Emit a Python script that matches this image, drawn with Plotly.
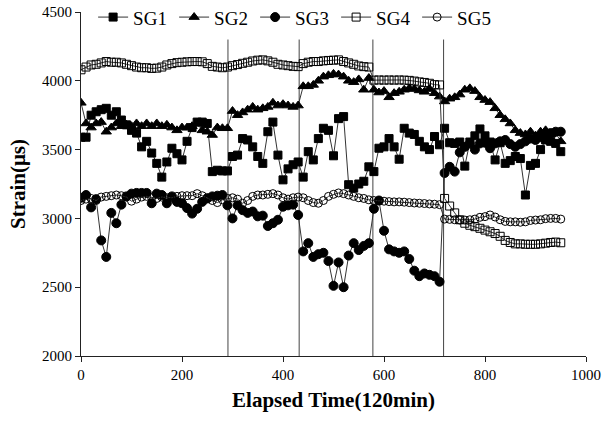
import plotly.graph_objects as go

# Elapsed time (120 min units)
time = [0, 10, 20, 30, 40, 50, 60, 70, 80, 90, 100, 110, 120, 130, 140, 150, 160, 170, 180, 190,
        200, 210, 220, 230, 240, 250, 260, 270, 280, 290,
        300, 310, 320, 330, 340, 350, 360, 370, 380, 390, 400, 410, 420, 430,
        440, 450, 460, 470, 480, 490, 500, 510, 520, 530, 540, 550, 560, 570,
        580, 590, 600, 610, 620, 630, 640, 650, 660, 670, 680, 690, 700, 710,
        720, 730, 740, 750, 760, 770, 780, 790, 800, 810, 820, 830, 840, 850, 860, 870, 880, 890,
        900, 910, 920, 930, 940, 950]

sg1 = [3590, 3590, 3750, 3775, 3790, 3800, 3750, 3775, 3715, 3680, 3640, 3620, 3520, 3560, 3475,
       3400, 3300, 3410, 3510, 3470, 3425, 3560, 3660, 3700, 3700, 3690, 3340, 3350, 3345, 3345,
       3450, 3460, 3580, 3570, 3520, 3450, 3400, 3630, 3700, 3460, 3280, 3360, 3390, 3410,
       3300, 3485, 3425, 3580, 3655, 3640, 3455, 3725, 3740, 3245, 3220, 3250, 3270, 3375,
       3340, 3510, 3520, 3580, 3520, 3430, 3655, 3620, 3610, 3560, 3520, 3500, 3595, 3535,
       3655, 3550, 3545, 3555, 3380, 3555, 3600, 3650, 3600, 3555, 3425, 3550, 3400, 3420,
       3450, 3435, 3170, 3385, 3400, 3500, 3570, 3560, 3545, 3485]

sg2 = [3840, 3690, 3660, 3690, 3700, 3630, 3660, 3690, 3670, 3680, 3670, 3690, 3670, 3690, 3670,
       3690, 3670, 3680, 3660, 3640, 3660, 3660, 3670, 3690, 3640, 3630, 3606, 3660, 3655, 3655,
       3780, 3750, 3770, 3790, 3810, 3790, 3800, 3810, 3840, 3820, 3830, 3820, 3810, 3820,
       3960, 3960, 3970, 4000, 4030, 4040, 4050, 4045, 4030, 4000, 3990, 4010, 3935, 4020,
       3935, 3915, 3925, 3880, 3910, 3920, 3935, 3945, 3940, 3930, 3920, 3940, 3910, 3885,
       3850, 3870, 3880, 3900, 3935, 3945, 3925, 3880, 3860, 3845, 3800, 3750, 3720, 3690,
       3640, 3620, 3610, 3630, 3600, 3630, 3640, 3610, 3620, 3560]

sg3 = [3150, 3170, 3080, 3140, 2840, 2720, 3040, 2965, 3100, 3160, 3180, 3185, 3185, 3185, 3110,
       3180, 3170, 3110, 3160, 3120, 3110, 3075, 3035, 3070, 3120, 3145, 3160, 3165, 3170, 3095,
       3000, 3095, 3060, 3040, 3050, 3015, 3020, 2945, 2965, 2990, 3085, 3095, 3100, 3025,
       2760, 2820, 2720, 2740, 2750, 2690, 2510, 2680, 2500, 2730, 2820, 2770, 2800, 2820,
       3070, 3130, 2910, 2775, 2760, 2750, 2760, 2705, 2620, 2580, 2600, 2590, 2580, 2540,
       3330, 3375, 3340, 3480, 3520, 3545, 3500, 3545, 3550, 3510, 3545, 3560, 3570, 3540,
       3520, 3540, 3560, 3580, 3570, 3590, 3610, 3620, 3630, 3630]

sg4 = [4080, 4100, 4115, 4120, 4130, 4140, 4135, 4135, 4130, 4120, 4110, 4100, 4095, 4095, 4090,
       4092, 4100, 4115, 4125, 4132, 4135, 4138, 4140, 4140, 4138, 4125, 4105, 4100, 4095, 4100,
       4110, 4118, 4127, 4135, 4144, 4150, 4152, 4145, 4135, 4120, 4115, 4110, 4105, 4103,
       4125, 4135, 4140, 4140, 4145, 4148, 4150, 4152, 4140, 4130, 4120, 4108, 4103, 4100,
       4005, 4006, 4005, 4006, 4005, 4006, 4005, 4003, 3998, 3992, 3988, 3982, 3972, 3970,
       3145, 3090, 3040, 2990, 2965, 2950, 2940, 2928, 2915, 2903, 2890, 2870, 2840, 2825,
       2815, 2815, 2812, 2812, 2812, 2815, 2820, 2825, 2828, 2823]

sg5 = [3130, 3140, 3145, 3130, 3155, 3160, 3165, 3170, 3165, 3155, 3125, 3140, 3155, 3160, 3150,
       3145, 3155, 3150, 3150, 3160, 3165, 3165, 3165, 3180, 3165, 3150, 3130, 3115, 3135, 3145,
       3150, 3140, 3110, 3130, 3160, 3170, 3170, 3175, 3180, 3170, 3150, 3140, 3150, 3155,
       3150, 3130, 3115, 3110, 3130, 3160, 3175, 3185, 3180, 3170, 3160, 3150, 3145, 3135,
       3130, 3128, 3125, 3122, 3120, 3120, 3118, 3115, 3112, 3110, 3108, 3105, 3103, 3100,
       2995, 2993, 2990, 2988, 2988, 2990, 2995, 3008, 3013, 3025, 3010, 2990, 2978, 2975,
       2975, 2972, 2975, 2985, 2988, 2990, 2998, 3000, 3000, 2995]

series_names = ["SG1", "SG2", "SG3", "SG4", "SG5"]
series_symbols = ["square", "triangle-up", "circle", "square-open", "circle-open"]
series_sizes = [8, 9, 9, 8, 8]

phase_boundaries = [291, 432, 578, 718]
phase_top = 4300

font_family = "Liberation Serif, Times New Roman, serif"

fig = go.Figure()
for name, vals, sym, size in zip(series_names, [sg1, sg2, sg3, sg4, sg5], series_symbols, series_sizes):
    fig.add_trace(go.Scatter(
        x=time, y=vals, name=name, mode="lines+markers",
        line=dict(color="#333333", width=1),
        marker=dict(symbol=sym, size=size, color="black",
                    line=dict(color="black", width=1)),
    ))

for xb in phase_boundaries:
    fig.add_shape(type="line", xref="x", yref="y", x0=xb, x1=xb, y0=2000, y1=phase_top,
                  line=dict(color="#444444", width=1), layer="below")

fig.update_layout(
    width=603, height=421,
    margin=dict(l=81, r=17, t=12, b=65, autoexpand=False),
    plot_bgcolor="white", paper_bgcolor="white",
    font=dict(family=font_family, color="black", size=15),
    showlegend=True,
    legend=dict(orientation="h", x=0.024, y=1.04, xanchor="left", yanchor="top",
                font=dict(family=font_family, size=19, color="black"),
                bgcolor="rgba(0,0,0,0)", itemwidth=30,
                entrywidth=36, entrywidthmode="pixels", tracegroupgap=0),
    xaxis=dict(range=[0, 1000], dtick=200, tick0=0, showgrid=False, zeroline=False,
               automargin=False,
               showline=True, linecolor="#222222", linewidth=1.2,
               ticks="outside", ticklen=5, tickcolor="#222222",
               title=dict(text="<b>Elapsed Time(120min)</b>", font=dict(size=21), standoff=10)),
    yaxis=dict(range=[2000, 4500], dtick=500, tick0=2000, showgrid=False, zeroline=False,
               automargin=False,
               showline=True, linecolor="#222222", linewidth=1.2,
               ticks="outside", ticklen=5, tickcolor="#222222",
               title=dict(text="<b>Strain(μs)</b>", font=dict(size=21), standoff=10)),
)

fig.write_html("out.html")
